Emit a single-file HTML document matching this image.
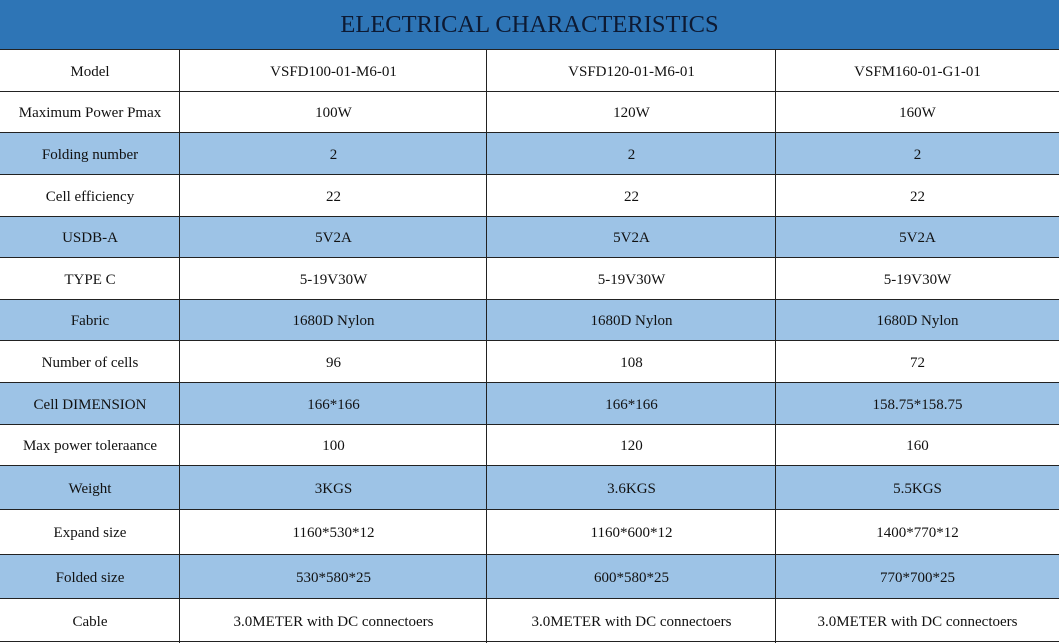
<html><head><style>
body{margin:0;width:1059px;height:643px;background:#fff;font-family:"Liberation Serif",serif;overflow:hidden;position:relative}
.h{position:absolute;left:0;top:0;width:1059px;height:49px;background:#2e75b6;color:#0d1a33;font-size:24.5px;text-align:center;line-height:50px}
.r{position:absolute;left:0;width:1059px;border-top:1.5px solid #222;box-sizing:border-box}
.c{position:absolute;top:0;height:100%;display:flex;align-items:center;justify-content:center;font-size:15px;color:#111;padding-top:3px;box-sizing:border-box}
.v{position:absolute;top:49px;bottom:0;width:1.2px;background:#222}
</style></head><body>
<div class="h">ELECTRICAL CHARACTERISTICS</div>
<div id="t"></div>
<script>
var rows=[["Model","VSFD100-01-M6-01","VSFD120-01-M6-01","VSFM160-01-G1-01"],
["Maximum Power Pmax","100W","120W","160W"],
["Folding number","2","2","2"],
["Cell efficiency","22","22","22"],
["USDB-A","5V2A","5V2A","5V2A"],
["TYPE C","5-19V30W","5-19V30W","5-19V30W"],
["Fabric","1680D Nylon","1680D Nylon","1680D Nylon"],
["Number of cells","96","108","72"],
["Cell DIMENSION","166*166","166*166","158.75*158.75"],
["Max power toleraance","100","120","160"],
["Weight","3KGS","3.6KGS","5.5KGS"],
["Expand size","1160*530*12","1160*600*12","1400*770*12"],
["Folded size","530*580*25","600*580*25","770*700*25"],
["Cable","3.0METER with DC connectoers","3.0METER with DC connectoers","3.0METER with DC connectoers"]];
var ys=[49,91,132,174,216,257,299,340,382,424,465,509,554,598,643];
var xs=[0,180,487,776,1059];var h="";
rows.forEach(function(r,i){var bg=(i%2==0&&i>0)?"#9dc3e6":"#fff";
h+='<div class="r" style="top:'+ys[i]+'px;height:'+(ys[i+1]-ys[i])+'px;background:'+bg+'">';
r.forEach(function(t,j){h+='<div class="c" style="left:'+xs[j]+'px;width:'+(xs[j+1]-xs[j])+'px">'+t+'</div>'});
h+='</div>'});
[180,487,776].forEach(function(x){h+='<div class="v" style="left:'+(x-1)+'px"></div>'});
h+='<div class="r" style="top:641px;height:2px"></div>';
document.getElementById("t").innerHTML=h;
</script>
</body></html>
